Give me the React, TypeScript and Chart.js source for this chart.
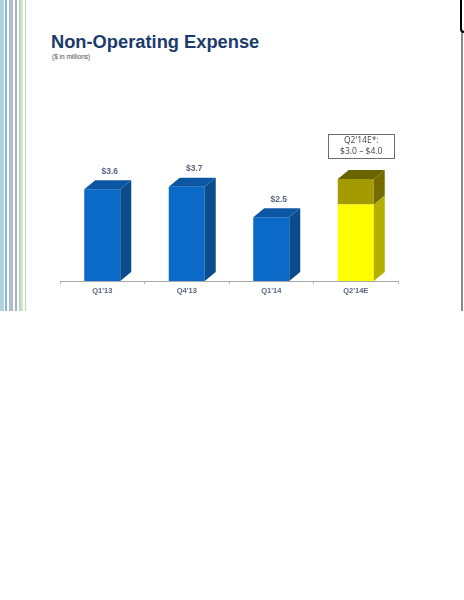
import { useEffect, useRef } from "react";
import { Chart, registerables, type ChartItem, type Plugin } from "chart.js";

Chart.register(...registerables);

// quarters on the x axis
const categories = ["Q1'13", "Q4'13", "Q1'14", "Q2'14E"];
// reported expense, $M
const actual = [3.6, 3.7, 2.5, null];
// guidance: low end, then the spread up to the high end
const estimateLow = [null, null, null, 3.0];
const estimateRange = [null, null, null, 1.0];
const guidanceText = ["Q2'14E*:", "$3.0 \u2013 $4.0"];

const FONT = "'Liberation Sans', Arial, sans-serif";
const FRONT = ["#0b69c7", "#ffff00", "#a39b00"];
const SIDE = ["#0a4c8c", "#b5b000", "#746c00"];
const TOP = ["#0b57a3", "#8c8400", "#6a6400"];
const DX = 11;
const DY = 9;

const STRIPES: [number, number, string][] = [
  [0, 2, "#bccbdb"],
  [2, 2, "#a9d9e6"],
  [5, 2, "#86b9d4"],
  [9, 4, "#b3bccb"],
  [15, 2, "#a7afc7"],
  [19, 2, "#b7d9b9"],
  [21, 2, "#d3e9cd"],
  [25, 1, "#b9deb7"],
];

const depthPlugin: Plugin<"bar"> = {
  id: "depth",
  afterDatasetsDraw(chart) {
    const ctx = chart.ctx;
    const n = chart.data.datasets.length;
    ctx.save();
    chart.data.datasets.forEach((ds, di) => {
      const meta = chart.getDatasetMeta(di);
      meta.data.forEach((el: any, i) => {
        if (ds.data[i] == null) return;
        const { x, y, base, width } = el.getProps(["x", "y", "base", "width"], true);
        const l = x - width / 2;
        const r = x + width / 2;
        // side face
        ctx.fillStyle = SIDE[di];
        ctx.beginPath();
        ctx.moveTo(r, y);
        ctx.lineTo(r + DX, y - DY);
        ctx.lineTo(r + DX, base - DY);
        ctx.lineTo(r, base);
        ctx.closePath();
        ctx.fill();
        // top face only on the highest segment of the stack
        let isTop = true;
        for (let k = di + 1; k < n; k++) if (chart.data.datasets[k].data[i] != null) isTop = false;
        if (isTop) {
          ctx.fillStyle = TOP[di];
          ctx.beginPath();
          ctx.moveTo(l, y);
          ctx.lineTo(l + DX, y - DY);
          ctx.lineTo(r + DX, y - DY);
          ctx.lineTo(r, y);
          ctx.closePath();
          ctx.fill();
        }
        if (di === 0) {
          ctx.fillStyle = "#5b6584";
          ctx.font = `bold 8.5px ${FONT}`;
          ctx.textAlign = "center";
          ctx.textBaseline = "middle";
          ctx.fillText("$" + (ds.data[i] as number).toFixed(1), x + 7.5, y - DY - 9);
        }
        if (di === n - 1) {
          const cx = x + DX / 2;
          const bw = 66;
          const bh = 24;
          const bottom = y - DY - 12;
          ctx.fillStyle = "#ffffff";
          ctx.fillRect(cx - bw / 2, bottom - bh, bw, bh);
          ctx.strokeStyle = "#6d6d6d";
          ctx.lineWidth = 1;
          ctx.strokeRect(Math.round(cx - bw / 2) + 0.5, Math.round(bottom - bh) + 0.5, bw, bh);
          ctx.fillStyle = "#444444";
          ctx.font = `8.5px 'Open Sans', ${FONT}`;
          ctx.textAlign = "center";
          ctx.textBaseline = "middle";
          ctx.fillText(guidanceText[0], cx, bottom - bh + 7);
          ctx.fillText(guidanceText[1], cx, bottom - bh + 18);
        }
      });
    });
    ctx.restore();
  },
};

function ExpenseChart() {
  const canvasRef = useRef<HTMLCanvasElement>(null);

  useEffect(() => {
    if (!canvasRef.current) return;
    const chart = new Chart(canvasRef.current.getContext("2d") as ChartItem, {
      type: "bar",
      data: {
        labels: categories,
        datasets: [
          { label: "Actual", data: actual, backgroundColor: FRONT[0] },
          { label: "Low", data: estimateLow, backgroundColor: FRONT[1] },
          { label: "Range", data: estimateRange, backgroundColor: FRONT[2] },
        ],
      },
      options: {
        responsive: true,
        maintainAspectRatio: false,
        animation: false,
        barPercentage: 0.426,
        categoryPercentage: 1,
        layout: { padding: { left: 60, right: 66, top: 128, bottom: 0 } },
        plugins: { legend: { display: false }, tooltip: { enabled: false } },
        scales: {
          x: {
            stacked: true,
            afterFit: (s) => {
              s.height = 30;
            },
            grid: {
              display: true,
              drawOnChartArea: false,
              drawTicks: true,
              tickLength: 3,
              color: "#b4b4b4",
              offset: true,
            },
            border: { display: true, color: "#a8a8a8", width: 1 },
            ticks: {
              padding: 2,
              color: "#5b6584",
              font: { family: FONT, size: 7.5, weight: "bold" },
            },
          },
          y: { stacked: true, display: false, min: 0, max: 6 },
        },
      },
      plugins: [depthPlugin],
    });
    return () => chart.destroy();
  }, []);

  return (
    <div style={{ position: "absolute", left: 0, top: 0, width: 464, height: 311 }}>
      <canvas ref={canvasRef} />
    </div>
  );
}

export default function App() {
  return (
    <div style={{ position: "fixed", inset: 0, background: "#fff", overflow: "hidden" }}>
      <div style={{ position: "absolute", left: 0, top: 0, width: 464, height: 600 }}>
        {STRIPES.map(([x, w, c], i) => (
          <div
            key={i}
            style={{ position: "absolute", left: x, top: 0, width: w, height: 311, background: c }}
          />
        ))}
        <div style={{ position: "absolute", left: 461, top: 32, width: 1.5, height: 279, background: "#8a8a8a" }} />
        <div
          style={{
            position: "absolute",
            left: 460,
            top: -3,
            width: 12,
            height: 34,
            borderLeft: "2px solid #000",
            borderBottom: "2px solid #000",
            borderRadius: "0 0 0 4px",
          }}
        />
        <div
          style={{
            position: "absolute",
            left: 51,
            top: 31,
            fontFamily: FONT,
            fontWeight: "bold",
            fontSize: 18.3,
            color: "#1c3b6c",
            whiteSpace: "nowrap",
          }}
        >
          Non-Operating Expense
        </div>
        <div
          style={{
            position: "absolute",
            left: 52,
            top: 53,
            fontFamily: FONT,
            fontSize: 6.5,
            color: "#4a4a4a",
            whiteSpace: "nowrap",
          }}
        >
          ($ in millions)
        </div>
        <ExpenseChart />
      </div>
    </div>
  );
}
